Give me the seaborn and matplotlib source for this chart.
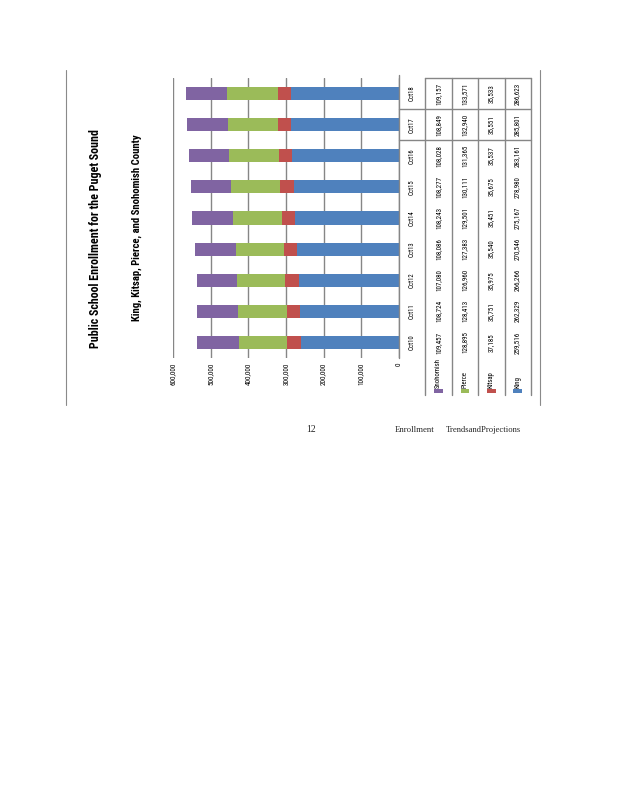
import matplotlib
matplotlib.use("Agg")
import matplotlib.pyplot as plt
import matplotlib.transforms as mtransforms
from matplotlib.lines import Line2D
from matplotlib.patches import Rectangle
import seaborn as sns
import pandas as pd
import numpy as np

months = ['Oct10', 'Oct11', 'Oct12', 'Oct13', 'Oct14', 'Oct15', 'Oct16', 'Oct17', 'Oct18']
series_names = ['Snohomish', 'Pierce', 'Kitsap', 'King']
snohomish = [109457, 108724, 107080, 108086, 108243, 108277, 108028, 108849, 109157]
pierce = [128895, 128413, 126960, 127383, 129501, 130111, 131365, 132940, 133571]
kitsap = [37185, 35751, 35975, 35540, 35451, 35675, 35537, 35551, 35533]
king = [259516, 262329, 266266, 270546, 275167, 278980, 283161, 285801, 286623]
value_ticks = [0, 100000, 200000, 300000, 400000, 500000, 600000]
title1 = 'Public School Enrollment for the Puget Sound'
title2 = 'King, Kitsap, Pierce, and Snohomish County'

colors = {'Snohomish': '#8064A2', 'Pierce': '#9BBB59', 'Kitsap': '#C0504D', 'King': '#4F81BD'}
values = {'Snohomish': snohomish, 'Pierce': pierce, 'Kitsap': kitsap, 'King': king}

sns.set_style('white')
plt.rcParams['font.family'] = ['Roboto Condensed', 'Noto Sans Condensed', 'Liberation Sans Narrow',
                               'Open Sans Condensed', 'Noto Sans', 'DejaVu Sans']
plt.rcParams['font.stretch'] = 'condensed'

W, H = 618, 800
fig = plt.figure(figsize=(W / 100, H / 100), dpi=100)
renderer = fig.canvas.get_renderer()

def fx(px):
    return px / W

def fy(py):
    return 1 - py / H

def fit(txt, target, vertical=True):
    bb = txt.get_window_extent(renderer)
    cur = bb.height if vertical else bb.width
    if cur > 0:
        txt.set_fontsize(txt.get_fontsize() * target / cur)

df = pd.DataFrame({'month': months, 'King': king, 'Kitsap': kitsap,
                   'Pierce': pierce, 'Snohomish': snohomish})
df['c_king'] = df['King']
df['c_kitsap'] = df['c_king'] + df['Kitsap']
df['c_pierce'] = df['c_kitsap'] + df['Pierce']
df['c_snoh'] = df['c_pierce'] + df['Snohomish']

order = months[::-1]
ax = fig.add_axes([fx(173), fy(358), (399 - 173) / W, (358 - 78) / H])
for col, name in [('c_snoh', 'Snohomish'), ('c_pierce', 'Pierce'),
                  ('c_kitsap', 'Kitsap'), ('c_king', 'King')]:
    sns.barplot(data=df, x=col, y='month', order=order, orient='h',
                color=colors[name], width=0.42, errorbar=None, ax=ax,
                saturation=1, linewidth=0)
ax.set_xlim(600000, 0)
ax.set_ylim(8.5, -0.5)
ax.set_xticks(value_ticks)
ax.set_yticks([])
ax.set_xlabel('')
ax.set_ylabel('')
for s in ax.spines.values():
    s.set_visible(False)
ax.tick_params(axis='x', length=0, pad=3)
ax.grid(axis='x', color='#868686', linewidth=1.0)
ax.set_axisbelow(True)

# measure tick label size
probe = fig.text(0, 0, '600,000', rotation=90, fontsize=6)
fit(probe, 23)
tick_fs = probe.get_fontsize()
probe.remove()
ax.set_xticklabels([f'{v:,}' for v in value_ticks], rotation=90, fontsize=tick_fs, color='black')

# data table
ax_t = fig.add_axes([fx(399), fy(358), (531 - 399) / W, (358 - 78) / H])
ax_t.set_xlim(0, 5)
ax_t.set_ylim(ax.get_ylim())
ax_t.axis('off')
trans = mtransforms.blended_transform_factory(ax_t.transData, ax_t.transAxes)
lc = '#868686'
ax_t.plot([0, 0], [0, 1.01], color=lc, lw=1.0, transform=trans, clip_on=False)
for xv in [1, 2, 3, 4, 5]:
    ax_t.plot([xv, xv], [-0.132, 1.0], color=lc, lw=1.0, transform=trans, clip_on=False)
ax_t.plot([1, 5], [1.0, 1.0], color=lc, lw=1.0, transform=trans, clip_on=False)
for yb in [0.5, 1.5]:
    ax_t.plot([0, 5], [yb, yb], color=lc, lw=1.0, clip_on=False)

probe = fig.text(0, 0, '259,516', rotation=90, fontsize=6)
fit(probe, 22)
num_fs = probe.get_fontsize()
probe.remove()
probe = fig.text(0, 0, 'Oct18', rotation=90, fontsize=6)
fit(probe, 16)
cat_fs = probe.get_fontsize()
probe.remove()
probe = fig.text(0, 0, 'Snohomish', rotation=90, fontsize=6)
fit(probe, 30)
name_fs = probe.get_fontsize()
probe.remove()

for m in months:
    pos = order.index(m)
    i = months.index(m)
    ax_t.text(0.5, pos, m, rotation=90, ha='center', va='center', fontsize=cat_fs, color='black')
    for j, name in enumerate(series_names):
        ax_t.text(1.5 + j, pos, f'{values[name][i]:,}', rotation=90, ha='center',
                  va='center', fontsize=num_fs, color='black')

for j, name in enumerate(series_names):
    ax_t.text(1.5 + j, -0.107, name, rotation=90, ha='center', va='bottom',
              fontsize=name_fs, color='black', transform=trans, clip_on=False)
    ax_t.add_patch(Rectangle((1.5 + j - 0.17, -0.126), 0.34, 0.014, transform=trans,
                             facecolor=colors[name], edgecolor='none', clip_on=False))

# titles
t1 = fig.text(fx(95), fy(239), title1, rotation=90, ha='center', va='center',
              fontsize=10, fontweight='bold', color='black')
fit(t1, 219)
t2 = fig.text(fx(137), fy(228), title2, rotation=90, ha='center', va='center',
              fontsize=10, fontweight='bold', color='black')
fit(t2, 188)

# page frame
for xp in [66, 540]:
    fig.add_artist(Line2D([fx(xp), fx(xp)], [fy(70), fy(405)], color='#8a8a8a', lw=0.8))

# footer
serif = ['Liberation Serif', 'DejaVu Serif']
fig.text(fx(306), fy(430), '12', fontsize=7, family=serif, va='center', ha='left')
f1 = fig.text(fx(395), fy(430), 'Enrollment', fontsize=7, family=serif, va='center', ha='left')
fit(f1, 40, vertical=False)
f2 = fig.text(fx(446), fy(430), 'TrendsandProjections', fontsize=7, family=serif, va='center', ha='left')
fit(f2, 75, vertical=False)

fig.savefig('out.png', dpi=100, facecolor='white')
